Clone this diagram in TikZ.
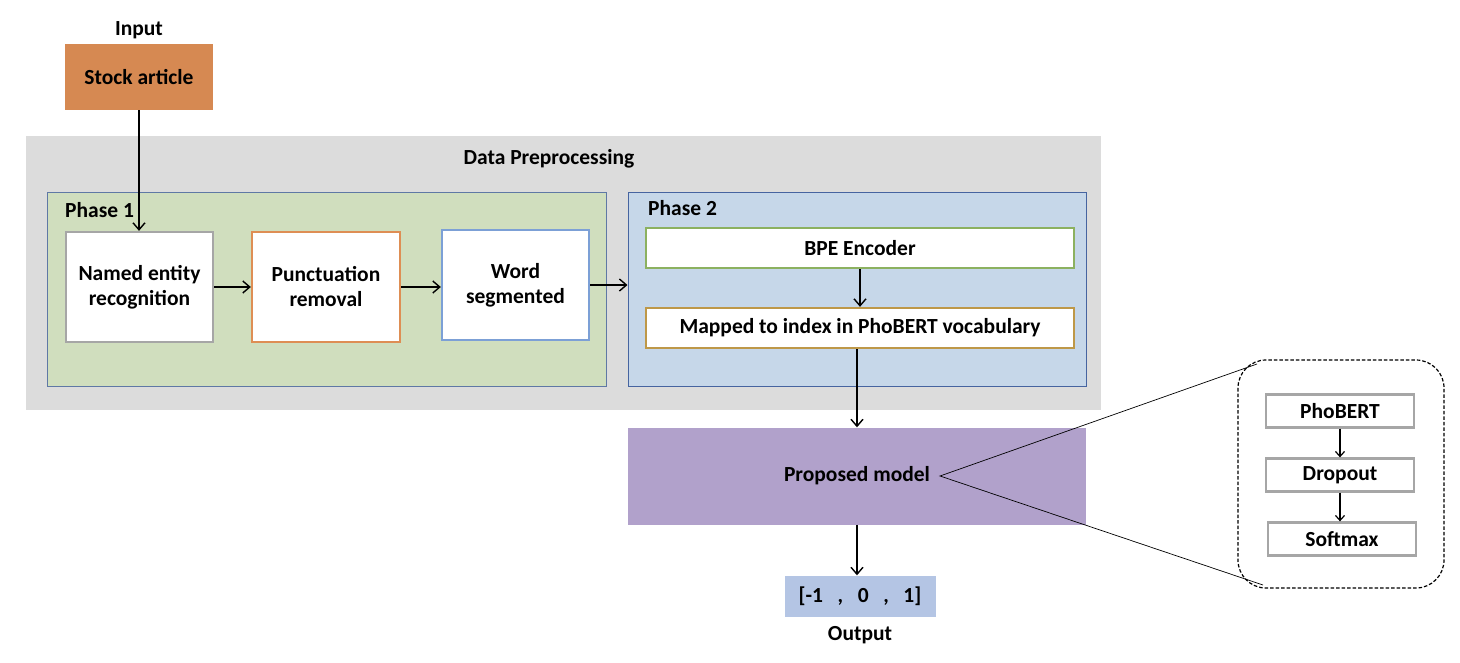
\documentclass[tikz,border=0pt]{standalone}
\usepackage{fontspec}
\setmainfont{Carlito}
\usetikzlibrary{arrows.meta,calc}
\definecolor{orangeF}{RGB}{214,137,82}
\definecolor{greyBG}{RGB}{220,220,220}
\definecolor{ph1F}{RGB}{208,222,190}
\definecolor{ph1D}{RGB}{95,120,165}
\definecolor{ph2F}{RGB}{198,215,233}
\definecolor{ph2D}{RGB}{70,100,160}
\definecolor{propF}{RGB}{177,161,203}
\definecolor{outF}{RGB}{180,197,228}
\definecolor{greyD}{RGB}{166,166,166}
\definecolor{orangeD}{RGB}{222,142,84}
\definecolor{blueD}{RGB}{124,160,214}
\definecolor{greenD}{RGB}{140,177,96}
\definecolor{goldD}{RGB}{190,152,72}
\begin{document}
\begin{tikzpicture}[x=1pt,y=-1pt,
  font=\fontsize{21.5}{25}\selectfont\bfseries,
  wbox/.style={draw, line width=2.3pt, fill=white, align=center, inner sep=0pt},
  panel/.style={draw, line width=1pt, inner sep=0pt},
  arr/.style={-{Straight Barb[length=7pt,width=12pt]}, line width=1.4pt},
  sarr/.style={-{Straight Barb[length=5pt,width=9pt]}, line width=1.2pt},
  thinline/.style={line width=0.7pt}
]
\useasboundingbox (0,0) rectangle (1460,662);

% background panels
\node[fill=greyBG, minimum width=1075, minimum height=274, inner sep=0pt] (grey) at (563.5,273) {};
\node (dp) at (549,159) {Data Preprocessing};
\node[panel, draw=ph1D, fill=ph1F, minimum width=559, minimum height=194] (ph1) at (326.5,289) {};
\node[panel, draw=ph2D, fill=ph2F, minimum width=458, minimum height=194] (ph2) at (857,289) {};
\node[anchor=west, inner sep=0pt] (ph1l) at (65,210) {Phase 1};
\node[anchor=west, inner sep=0pt] (ph2l) at (648,208) {Phase 2};

% input
\node (input) at (139,30) {Input};
\node[fill=orangeF, minimum width=148, minimum height=66, inner sep=0pt] (stock) at (139,77) {Stock article};

% phase 1 boxes
\node[wbox, draw=greyD, minimum width=147, minimum height=110] (ner) at (139.5,287) {Named entity\\recognition};
\node[wbox, draw=orangeD, minimum width=148, minimum height=110] (punct) at (326,287) {Punctuation\\removal};
\node[wbox, draw=blueD, minimum width=147, minimum height=110] (word) at (515.5,285) {Word\\segmented};

% phase 2 boxes
\node[wbox, draw=greenD, minimum width=428, minimum height=40] (bpe) at (860,248) {BPE Encoder};
\node[wbox, draw=goldD, minimum width=428, minimum height=40] (mapped) at (860,328) {Mapped to index in PhoBERT vocabulary};

% proposed model and output
\node[fill=propF, minimum width=458, minimum height=97, inner sep=0pt] (prop) at (857,476) {Proposed model};
\node[fill=outF, minimum width=151, minimum height=41, inner sep=0pt] (out) at (860,596) {[-1\ \ \ ,\ \ \ 0\ \ \ ,\ \ \ 1]};
\node (outl) at (860,635) {Output};

% zoomed model
\draw[line width=1.2pt, dash pattern=on 3.5pt off 2pt, rounded corners=28pt] (1238,360) rectangle (1444,588);
\node[wbox, draw=greyD, minimum width=148, minimum height=33] (pho) at (1340,411) {PhoBERT};
\node[wbox, draw=greyD, minimum width=148, minimum height=33] (drop) at (1340,475) {Dropout};
\node[wbox, draw=greyD, minimum width=148, minimum height=33] (soft) at (1342,539) {Softmax};

\coordinate (vtx) at (940,476);
\coordinate (zt) at (1257,364);
\coordinate (zb) at (1263,585);
\draw[thinline] (zt) -- (vtx) -- (zb);

% connectors
\draw[arr] (stock.south) -- (stock.south |- ner.north);
\draw[arr] (ner.east) -- (ner.east -| punct.west);
\draw[arr] (punct.east) -- (punct.east -| word.west);
\draw[arr] (word.east) -- (word.east -| ph2.west);
\draw[arr] (bpe.south) -- (mapped.north);
\draw[arr] ([xshift=-3pt]mapped.south) -- ([xshift=-3pt]mapped.south |- prop.north);
\draw[arr] (prop.south) -- (prop.south |- out.north);
\draw[sarr] (pho.south) -- (drop.north);
\draw[sarr] (drop.south) -- (drop.south |- soft.north);
\end{tikzpicture}
\end{document}
